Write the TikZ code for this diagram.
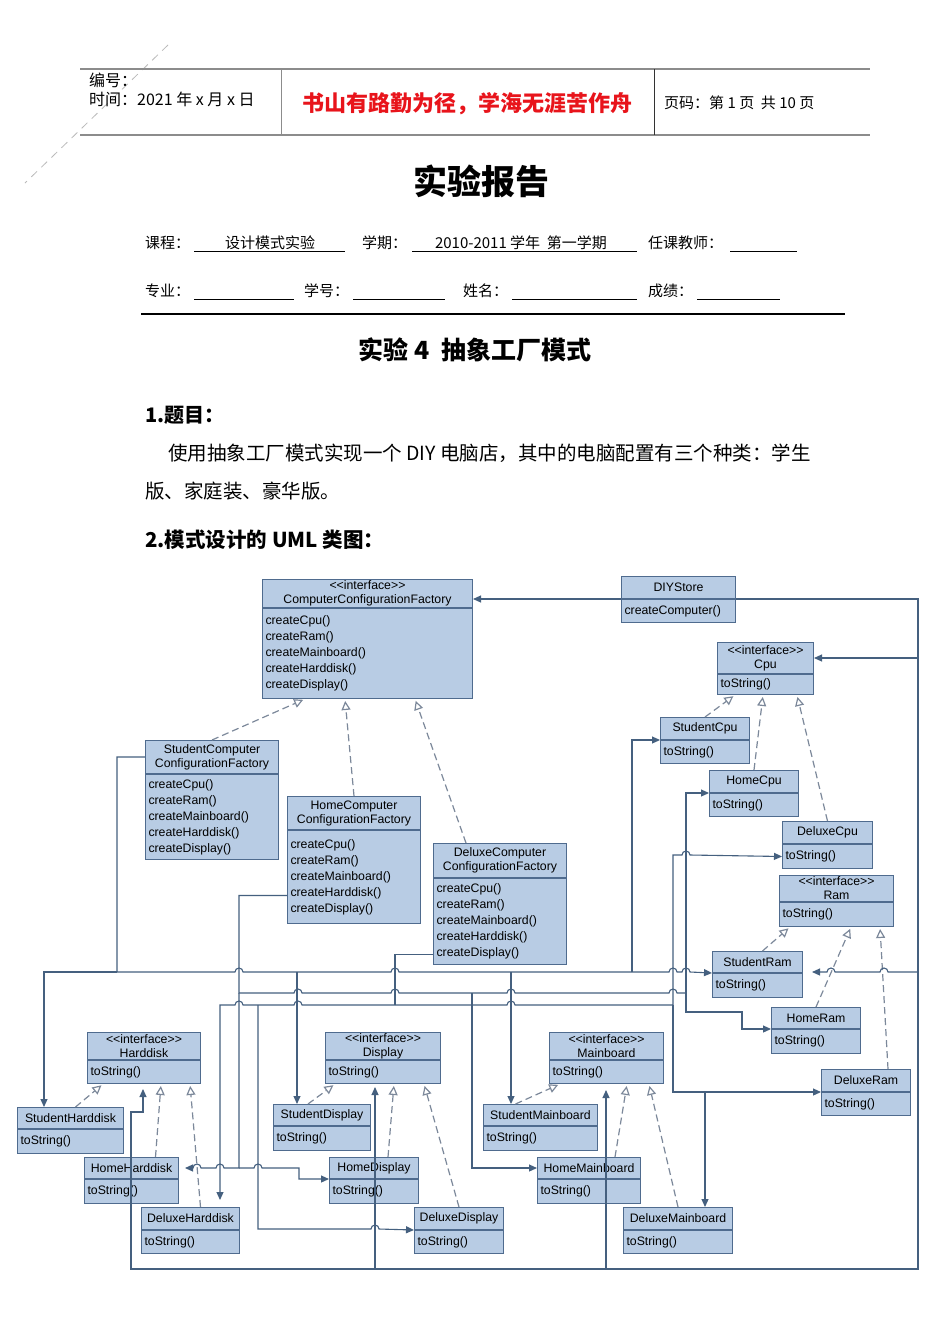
\documentclass[tikz,border=0pt]{standalone}
\usepackage{fontspec}
\setmainfont{Liberation Serif}
\newfontfamily\cjk{Noto Sans CJK SC}
\newfontfamily\umlsans{Liberation Sans}
\usepackage{xcolor}
\usetikzlibrary{arrows.meta, positioning}

\definecolor{umlfill}{HTML}{B8CCE4}
\definecolor{umlline}{HTML}{4F6B8E}
\definecolor{wireblue}{HTML}{45607F}
\definecolor{realgray}{HTML}{7C889A}
\definecolor{rulegray}{HTML}{8C8C8C}
\definecolor{mottored}{HTML}{E8141B}

% line jumps on horizontal wires (rightwards / leftwards)
\newcommand{\hop}[2]{-- ({#1-4},#2) arc[start angle=180, end angle=360, radius=4]}
\newcommand{\hopl}[2]{-- ({#1+4},#2) arc[start angle=0, end angle=-180, radius=4]}

\begin{document}
\begin{tikzpicture}[x=1pt, y=-1pt,
    umlhead/.style={draw=umlline, line width=1pt, fill=umlfill, anchor=north west, inner xsep=0pt, inner ysep=0pt, align=center, font=\umlsans\fontsize{12.3}{14}\selectfont},
    umlbody/.style={draw=umlline, line width=1pt, fill=umlfill, anchor=north west, inner xsep=3pt, inner ysep=0pt, align=left, font=\umlsans\fontsize{12.3}{16}\selectfont},
    realize/.style={draw=realgray, line width=1.2pt, dash pattern=on 7pt off 4pt, -{Triangle[open, length=9pt, width=9pt, fill=white]}, shorten >=2pt},
    assoc/.style={draw=wireblue, line width=1.1pt, -{Triangle[length=8pt, width=7pt]}},
    wire/.style={draw=wireblue, line width=1.1pt},
    txt/.style={inner sep=0pt, anchor=west}]

    \useasboundingbox (0,0) rectangle (950,1344);
    \fill[white] (0,0) rectangle (950,1344);

    % Page header
    \draw[rulegray!60, line width=0.8pt, dash pattern=on 8pt off 6pt] (168,45) -- (25,183);
    \draw[rulegray, line width=1.5pt] (80,69) -- (870,69);
    \draw[rulegray, line width=1.5pt] (80,135) -- (870,135);
    \draw[rulegray, line width=1pt] (281,69) -- (281,135);
    \draw[black!80, line width=1pt] (654,69) -- (654,135);
    \node[txt, font=\cjk\fontsize{16}{18}\selectfont] (serial) at (89,80) {编号：};
    \node[txt, font=\cjk\fontsize{16}{18}\selectfont] (date) at (89,99) {时间：2021 年 x 月 x 日};
    \node[inner sep=0pt, font=\cjk\bfseries\fontsize{22}{24}\selectfont, text=mottored] (motto) at (467,104) {书山有路勤为径，学海无涯苦作舟};
    \node[txt, font=\cjk\fontsize{15}{18}\selectfont] (pageno) at (664,103) {页码：第 1 页\ \ 共 10 页};

    % Report head
    \node[inner sep=0pt, font=\cjk\bfseries\fontsize{34}{36}\selectfont] (title) at (481,181) {实验报告};
    \node[txt, font=\cjk\fontsize{15}{18}\selectfont] (course) at (145,243) {课程：};
    \node[inner sep=0pt, font=\cjk\fontsize{15}{18}\selectfont] (coursev) at (270,243) {设计模式实验};
    \draw[line width=0.9pt] (194,251) -- (345,251);
    \node[txt, font=\cjk\fontsize{15}{18}\selectfont] (term) at (362,243) {学期：};
    \node[inner sep=0pt, font=\cjk\fontsize{15}{18}\selectfont] (termv) at (521,243) {2010-2011 学年\ \ 第一学期};
    \draw[line width=0.9pt] (412,251) -- (637,251);
    \node[txt, font=\cjk\fontsize{15}{18}\selectfont] (teacher) at (648,243) {任课教师：};
    \draw[line width=0.9pt] (730,251) -- (797,251);
    \node[txt, font=\cjk\fontsize{15}{18}\selectfont] (major) at (145,291) {专业：};
    \draw[line width=0.9pt] (194,299) -- (294,299);
    \node[txt, font=\cjk\fontsize{15}{18}\selectfont] (stuno) at (304,291) {学号：};
    \draw[line width=0.9pt] (353,299) -- (445,299);
    \node[txt, font=\cjk\fontsize{15}{18}\selectfont] (name) at (463,291) {姓名：};
    \draw[line width=0.9pt] (512,299) -- (637,299);
    \node[txt, font=\cjk\fontsize{15}{18}\selectfont] (score) at (648,291) {成绩：};
    \draw[line width=0.9pt] (697,299) -- (780,299);
    \draw[line width=2pt] (141,314) -- (845,314);

    % Sections
    \node[inner sep=0pt, font=\cjk\bfseries\fontsize{25}{27}\selectfont] (exp) at (475,350) {实验 4\ \ 抽象工厂模式};
    \node[txt, font=\cjk\bfseries\fontsize{20}{22}\selectfont] (sec1) at (145,415) {1.题目：};
    \node[txt, font=\cjk\fontsize{19.5}{22}\selectfont] (task1) at (168,453) {使用抽象工厂模式实现一个 DIY 电脑店，其中的电脑配置有三个种类：学生};
    \node[txt, font=\cjk\fontsize{19.5}{22}\selectfont] (task2) at (145,491) {版、家庭装、豪华版。};
    \node[txt, font=\cjk\bfseries\fontsize{20.5}{22}\selectfont] (sec2) at (145,540) {2.模式设计的 UML 类图：};

    % Factories
    \node[umlhead, text width=210pt, minimum height=28pt] (ccf) at (262,579) {{<}{<}interface{>}{>}\\ComputerConfigurationFactory};
    \node[umlbody, text width=204pt, minimum height=90pt] (ccf-m) at (ccf.south west) {createCpu()\\createRam()\\createMainboard()\\createHarddisk()\\createDisplay()};
    \node[umlhead, text width=114pt, minimum height=22pt] (diy) at (621,576) {DIYStore};
    \node[umlbody, text width=108pt, minimum height=23pt] (diy-m) at (diy.south west) {createComputer()};
    \node[umlhead, text width=133pt, minimum height=33pt] (sccf) at (145,740) {StudentComputer\\ConfigurationFactory};
    \node[umlbody, text width=127pt, minimum height=85pt] (sccf-m) at (sccf.south west) {createCpu()\\createRam()\\createMainboard()\\createHarddisk()\\createDisplay()};
    \node[umlhead, text width=133pt, minimum height=33pt] (hccf) at (287,796) {HomeComputer\\ConfigurationFactory};
    \node[umlbody, text width=127pt, minimum height=93pt] (hccf-m) at (hccf.south west) {createCpu()\\createRam()\\createMainboard()\\createHarddisk()\\createDisplay()};
    \node[umlhead, text width=133pt, minimum height=34pt] (dccf) at (433,843) {DeluxeComputer\\ConfigurationFactory};
    \node[umlbody, text width=127pt, minimum height=86pt] (dccf-m) at (dccf.south west) {createCpu()\\createRam()\\createMainboard()\\createHarddisk()\\createDisplay()};

    % Cpu and Ram
    \node[umlhead, text width=96pt, minimum height=31pt] (cpu) at (717,642) {{<}{<}interface{>}{>}\\Cpu};
    \node[umlbody, text width=90pt, minimum height=20pt] (cpu-m) at (cpu.south west) {toString()};
    \node[umlhead, text width=89pt, minimum height=22pt] (scpu) at (660,717) {StudentCpu};
    \node[umlbody, text width=83pt, minimum height=23pt] (scpu-m) at (scpu.south west) {toString()};
    \node[umlhead, text width=89pt, minimum height=22pt] (hcpu) at (709,770) {HomeCpu};
    \node[umlbody, text width=83pt, minimum height=23pt] (hcpu-m) at (hcpu.south west) {toString()};
    \node[umlhead, text width=90pt, minimum height=22pt] (dcpu) at (782,821) {DeluxeCpu};
    \node[umlbody, text width=84pt, minimum height=24pt] (dcpu-m) at (dcpu.south west) {toString()};
    \node[umlhead, text width=114pt, minimum height=26pt] (ram) at (779,875) {{<}{<}interface{>}{>}\\Ram};
    \node[umlbody, text width=108pt, minimum height=24pt] (ram-m) at (ram.south west) {toString()};
    \node[umlhead, text width=90pt, minimum height=21pt] (sram) at (712,951) {StudentRam};
    \node[umlbody, text width=84pt, minimum height=24pt] (sram-m) at (sram.south west) {toString()};
    \node[umlhead, text width=89pt, minimum height=21pt] (hram) at (771,1007) {HomeRam};
    \node[umlbody, text width=83pt, minimum height=24pt] (hram-m) at (hram.south west) {toString()};
    \node[umlhead, text width=89pt, minimum height=22pt] (dram) at (821,1069) {DeluxeRam};
    \node[umlbody, text width=83pt, minimum height=23pt] (dram-m) at (dram.south west) {toString()};

    % Harddisk
    \node[umlhead, text width=113pt, minimum height=27pt] (hd) at (87,1032) {{<}{<}interface{>}{>}\\Harddisk};
    \node[umlbody, text width=107pt, minimum height=23pt] (hd-m) at (hd.south west) {toString()};
    \node[umlhead, text width=106pt, minimum height=21pt] (shd) at (17,1107) {StudentHarddisk};
    \node[umlbody, text width=100pt, minimum height=24pt] (shd-m) at (shd.south west) {toString()};
    \node[umlhead, text width=94pt, minimum height=21pt] (hhd) at (84,1157) {HomeHarddisk};
    \node[umlbody, text width=88pt, minimum height=24pt] (hhd-m) at (hhd.south west) {toString()};
    \node[umlhead, text width=98pt, minimum height=22pt] (dhd) at (141,1207) {DeluxeHarddisk};
    \node[umlbody, text width=92pt, minimum height=23pt] (dhd-m) at (dhd.south west) {toString()};

    % Display
    \node[umlhead, text width=115pt, minimum height=27pt] (dsp) at (325,1032) {{<}{<}interface{>}{>}\\Display};
    \node[umlbody, text width=109pt, minimum height=23pt] (dsp-m) at (dsp.south west) {toString()};
    \node[umlhead, text width=97pt, minimum height=21pt] (sdsp) at (273,1104) {StudentDisplay};
    \node[umlbody, text width=91pt, minimum height=24pt] (sdsp-m) at (sdsp.south west) {toString()};
    \node[umlhead, text width=89pt, minimum height=21pt] (hdsp) at (329,1157) {HomeDisplay};
    \node[umlbody, text width=83pt, minimum height=24pt] (hdsp-m) at (hdsp.south west) {toString()};
    \node[umlhead, text width=89pt, minimum height=22pt] (ddsp) at (414,1207) {DeluxeDisplay};
    \node[umlbody, text width=83pt, minimum height=23pt] (ddsp-m) at (ddsp.south west) {toString()};

    % Mainboard
    \node[umlhead, text width=114pt, minimum height=27pt] (mb) at (549,1032) {{<}{<}interface{>}{>}\\Mainboard};
    \node[umlbody, text width=108pt, minimum height=23pt] (mb-m) at (mb.south west) {toString()};
    \node[umlhead, text width=114pt, minimum height=21pt] (smb) at (483,1104) {StudentMainboard};
    \node[umlbody, text width=108pt, minimum height=24pt] (smb-m) at (smb.south west) {toString()};
    \node[umlhead, text width=103pt, minimum height=21pt] (hmb) at (537,1157) {HomeMainboard};
    \node[umlbody, text width=97pt, minimum height=24pt] (hmb-m) at (hmb.south west) {toString()};
    \node[umlhead, text width=109pt, minimum height=22pt] (dmb) at (623,1207) {DeluxeMainboard};
    \node[umlbody, text width=103pt, minimum height=23pt] (dmb-m) at (dmb.south west) {toString()};

    % Realizations
    \draw[realize] (sccf.north) -- ([xshift=43pt]ccf-m.south west);
    \draw[realize] (hccf.north) -- ([xshift=83pt]ccf-m.south west);
    \draw[realize] ([xshift=-34pt]dccf.north) -- ([xshift=153pt]ccf-m.south west);
    \draw[realize] (scpu.north) -- ([xshift=18pt]cpu-m.south west);
    \draw[realize] (hcpu.north) -- ([xshift=46pt]cpu-m.south west);
    \draw[realize] (dcpu.north) -- ([xshift=80pt]cpu-m.south west);
    \draw[realize] ([xshift=5pt]sram.north) -- ([xshift=11pt]ram-m.south west);
    \draw[realize] (hram.north) -- ([xshift=72pt]ram-m.south west);
    \draw[realize] ([xshift=22pt]dram.north) -- ([xshift=101pt]ram-m.south west);
    \draw[realize] ([xshift=5pt]shd.north) -- ([xshift=16pt]hd-m.south west);
    \draw[realize] ([xshift=24pt]hhd.north) -- ([xshift=74pt]hd-m.south west);
    \draw[realize] ([xshift=10pt]dhd.north) -- ([xshift=103pt]hd-m.south west);
    \draw[realize] ([xshift=-14pt]sdsp.north) -- ([xshift=10pt]dsp-m.south west);
    \draw[realize] ([xshift=14pt]hdsp.north) -- ([xshift=69pt]dsp-m.south west);
    \draw[realize] (ddsp.north) -- ([xshift=99pt]dsp-m.south west);
    \draw[realize] ([xshift=-25pt]smb.north) -- ([xshift=11pt]mb-m.south west);
    \draw[realize] ([xshift=26pt]hmb.north) -- ([xshift=78pt]mb-m.south west);
    \draw[realize] (dmb.north) -- ([xshift=100pt]mb-m.south west);

    % Store
    \draw[assoc] (diy.south west) -- (diy.south west -| ccf.east);
    \draw[assoc, shorten >=5pt] (diy.south east) -| (918,1269) -- (131,1269) |- (143,1112) -- (143,0 |- hd-m.south);
    \draw[assoc] (cpu.east -| 918,0) -- (cpu.east);
    \coordinate (ramhook) at (812,972);
    \draw[assoc] (918,972) \hopl{884}{972} \hopl{831}{972} -- (ramhook);
    \draw[assoc, shorten >=3pt] (375,1269) -- (375,0 |- dsp-m.south);
    \draw[assoc, shorten >=6pt] (606,1269) -- (606,0 |- mb-m.south);

    % Student factory
    \draw[assoc] (sccf.west) -| (117,972) \hop{239}{972} \hop{395}{972} \hop{673}{972} \hop{686}{972} -- (sram.south west);
    \draw[assoc] (117,972) -- (44,972) -- (44,0 |- shd.north);
    \draw[assoc] (297,972) -- (297,0 |- sdsp.north);
    \draw[assoc] (511,972) -- (511,0 |- smb.north);
    \draw[assoc] (632,972) |- (scpu.south west);

    % Home factory
    \draw[wire] ([yshift=-18.5pt]hccf-m.west) -| (239,993) \hop{298}{993} \hop{395}{993} \hop{511}{993} \hop{673}{993} -- (686,993);
    \draw[assoc, shorten >=6pt] (239,993) -- (239,1168) \hopl{220}{1168} \hopl{197}{1168} -- (hhd.east);
    \draw[assoc] (239,1168) \hop{258}{1168} -- (299,1168) |- (hdsp.south west);
    \draw[assoc] (472,993) |- (hmb.west);
    \draw[assoc] (686,993) |- (hcpu.south west);
    \draw[assoc] (686,993) |- (742,1012) |- (hram.south west);

    % Deluxe factory
    \draw[wire] ([yshift=-33pt]dccf-m.west) -| (395,1005);
    \draw[assoc, shorten >=7pt] (395,1005) \hopl{298}{1005} \hopl{239}{1005} -- (220,1005) -- (220,0 |- dhd.north);
    \draw[assoc] (258,1005) -- (258,1229) \hop{375}{1229} -- (ddsp.south west);
    \draw[assoc] (395,1005) \hop{511}{1005} -- (673,1005) -- (673,855) \hop{686}{855} -- (dcpu-m.west);
    \draw[assoc] (673,1005) |- (dram.south west);
    \draw[assoc] (705,1091) -- (705,0 |- dmb.north);

\end{tikzpicture}
\end{document}
